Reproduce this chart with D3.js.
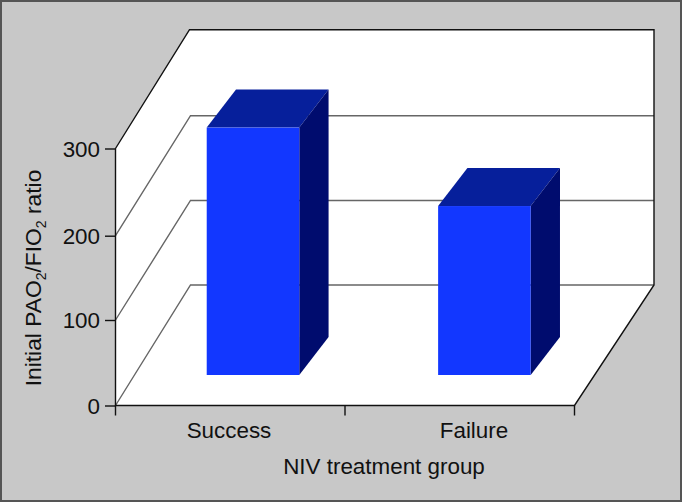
<!DOCTYPE html>
<html><head><meta charset="utf-8">
<script src="https://cdn.jsdelivr.net/npm/d3@7"></script>
<style>html,body{margin:0;padding:0;background:#c8c8c8}svg{display:block}text{font-family:"Liberation Sans",Arial,sans-serif;fill:#111}</style>
</head><body><svg id="c" width="682" height="502"></svg>
<script>
const categories = ["Success", "Failure"];
const values = [289, 199];
const yTicks = [0, 100, 200, 300];
const xTitle = "NIV treatment group";
const yTitleParts = [["Initial PAO",0],["2",1],["/FIO",0],["2",1],[" ratio",0]];

const svg = d3.select("#c");
const W = 682, H = 502, FS = 22.4;
// front plane and back wall of the 3D box
const x = d3.scaleBand().domain(categories).range([115.5, 574.5]);
const y = d3.scaleLinear().domain(yTicks).range([405.5, 320, 235.7, 148.5]);
const yBack = d3.scaleLinear().domain(yTicks).range([285, 200.5, 115.7, 29.7]);
const xBackL = 190.5, xBackR = 654;
// bars sit on their own band scale, inside the box
const xBar = d3.scaleBand().domain(categories).range([137.3, 600.1]).paddingInner(0.6).paddingOuter(0.3);
const floorShift = 30.5, barDepthX = 29.3, barDepthY = 38;
const line = d3.line();

svg.append("rect").attr("x",1).attr("y",1).attr("width",W-2).attr("height",H-2)
  .attr("fill","#c8c8c8").attr("stroke","#555").attr("stroke-width",2);

const x0 = x.range()[0], x1 = x.range()[1];
const y0 = y(0), yT = y(300);
svg.append("path").attr("fill","#fff").attr("d", line([
  [x0,y0],[x0,yT],[xBackL-1,yBack(300)],[xBackR,yBack(300)],[xBackR,yBack(0)],[x1,y0]
])+"Z");

// gridlines
yTicks.slice(0,3).forEach(t => {
  svg.append("path").attr("fill","none").attr("stroke","#666").attr("stroke-width",1.4)
    .attr("d", line([[x0,y(t)],[xBackL,yBack(t)],[xBackR,yBack(t)]]));
});

// frame
svg.append("path").attr("fill","none").attr("stroke","#111").attr("stroke-width",1.4)
  .attr("d", line([[x0,yT],[xBackL-1,yBack(300)],[xBackR,yBack(300)],[xBackR,yBack(0)],[x1,y0],[x0,y0],[x0,yT]]));

// bars
categories.forEach((c,i) => {
  const xl = xBar(c), xr = xl + xBar.bandwidth();
  const yb = y(0) - floorShift, yt = y(values[i]) - floorShift;
  const dx = barDepthX, dy = barDepthY;
  svg.append("path").attr("fill","#061f9b").attr("d", line([[xl,yt],[xl+dx,yt-dy],[xr+dx,yt-dy],[xr,yt]])+"Z");
  svg.append("path").attr("fill","#000c6e").attr("d", line([[xr,yt],[xr+dx,yt-dy],[xr+dx,yb-dy],[xr,yb]])+"Z");
  svg.append("rect").attr("x",xl).attr("y",yt).attr("width",xr-xl).attr("height",yb-yt).attr("fill","#1237ff");
});

// y axis
const gy = svg.append("g").attr("transform",`translate(${x0},0)`)
  .call(d3.axisLeft(y).tickValues(yTicks).tickSize(10.5).tickPadding(5).tickFormat(d3.format("d")));
gy.select(".domain").remove();
gy.selectAll("line").attr("stroke","#111").attr("stroke-width",1.4);
gy.selectAll("text").attr("font-size",FS).style("font-family",'"Liberation Sans",Arial,sans-serif').attr("fill","#111").attr("dy","0.34em");

// x axis
[x0, x0+x.bandwidth(), x1].forEach(v => {
  svg.append("line").attr("x1",v).attr("x2",v).attr("y1",y0).attr("y2",y0+10).attr("stroke","#111").attr("stroke-width",1.4);
});
const labelAnchor = d3.scalePoint().domain(categories).range([229, 474]);
categories.forEach(c => {
  svg.append("text").attr("x",labelAnchor(c)).attr("y",438.3).attr("text-anchor","middle").attr("font-size",FS).text(c);
});
svg.append("text").attr("x",384).attr("y",474).attr("text-anchor","middle").attr("font-size",FS).text(xTitle);

// y title
const yt = svg.append("text").attr("transform","translate(41,278) rotate(-90)").attr("text-anchor","middle").attr("font-size",22.8);
yTitleParts.forEach(([s,sub],i) => {
  const sp = yt.append("tspan").text(s);
  if (sub) { sp.attr("font-size",14).attr("dy",5); }
  else if (i > 0) { sp.attr("dy",-5); }
});
</script></body></html>
